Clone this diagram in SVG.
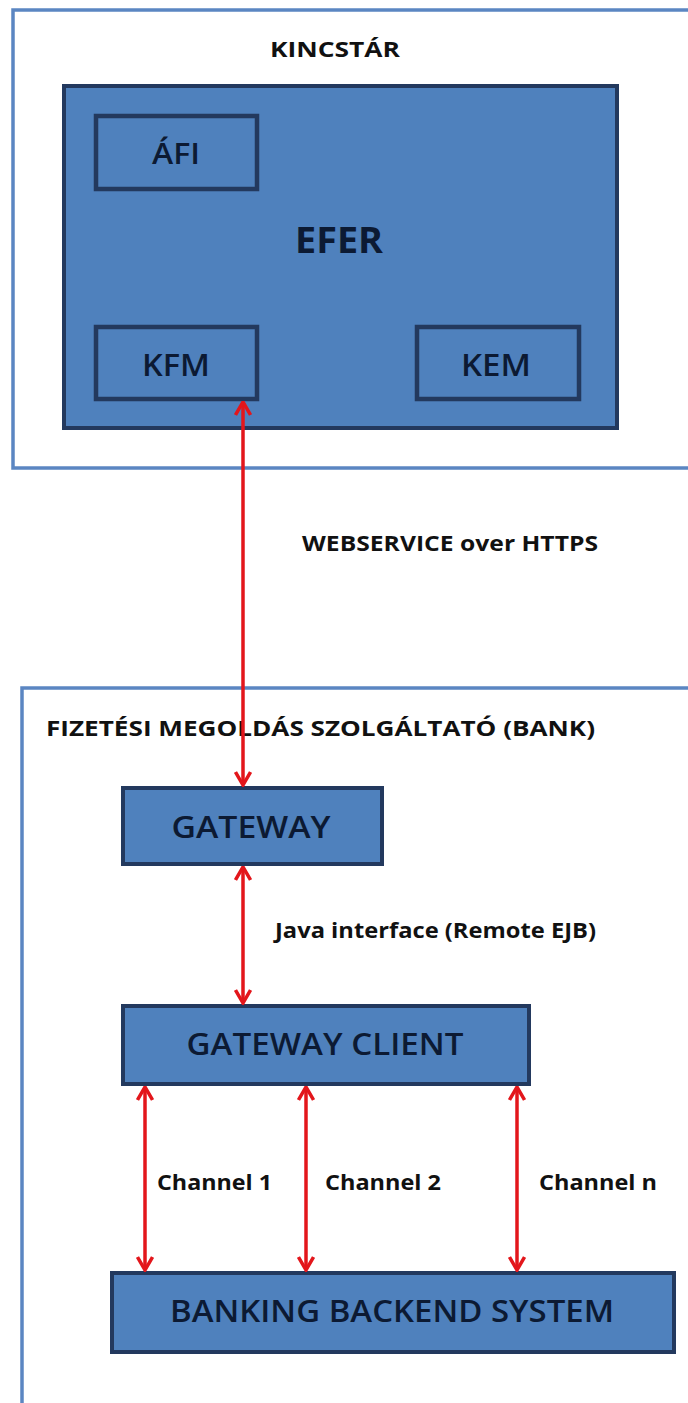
<svg xmlns="http://www.w3.org/2000/svg" width="688" height="1403" viewBox="0 0 688 1403">
<style>
.outer{fill:#ffffff;stroke:#5b86c2;stroke-width:3.5}
.box{fill:#4f81bd;stroke:#23395e;stroke-width:4}
.inner{fill:#4f81bd;stroke:#23395e;stroke-width:4.5}
.bt{font-family:"Open Sans","Liberation Sans",sans-serif;font-weight:600;fill:#0c1a33;text-anchor:middle}
.bt.strong{font-weight:700}
.lbl{font-family:"Open Sans","Liberation Sans",sans-serif;font-weight:700;fill:#111111}
.conn{stroke:#e3161b;stroke-width:3.5;fill:none}
</style>
<defs>
<marker id="ah" viewBox="0 0 16 18" refX="14.5" refY="9" markerWidth="16" markerHeight="18" markerUnits="userSpaceOnUse" orient="auto-start-reverse">
<path d="M1.5,1.5 L14.5,9 L1.5,16.5" fill="none" stroke="#e3161b" stroke-width="3.5"/>
</marker>
</defs>
<rect width="688" height="1403" fill="#ffffff"/>
<g id="kincstar">
<rect class="outer" x="13" y="10" width="690" height="458"/>
<text class="lbl" x="335" y="57" font-size="21" text-anchor="middle" textLength="130" lengthAdjust="spacingAndGlyphs">KINCSTÁR</text>
</g>
<g id="efer">
<rect class="box" x="64" y="86" width="553" height="342"/>
<text class="bt strong" x="339" y="253" font-size="35" textLength="88" lengthAdjust="spacingAndGlyphs">EFER</text>
</g>
<g id="afi">
<rect class="inner" x="96" y="116" width="161" height="73"/>
<text class="bt" x="176" y="164" font-size="29" textLength="48" lengthAdjust="spacingAndGlyphs">ÁFI</text>
</g>
<g id="kfm">
<rect class="inner" x="96" y="327" width="161" height="72"/>
<text class="bt" x="176" y="376" font-size="30" textLength="68" lengthAdjust="spacingAndGlyphs">KFM</text>
</g>
<g id="kem">
<rect class="inner" x="417" y="327" width="162" height="72"/>
<text class="bt" x="496" y="376" font-size="30" textLength="70" lengthAdjust="spacingAndGlyphs">KEM</text>
</g>
<g id="bank">
<rect class="outer" x="22" y="688" width="690" height="730"/>
<text class="lbl" x="46" y="736" font-size="21" textLength="549" lengthAdjust="spacingAndGlyphs">FIZETÉSI MEGOLDÁS SZOLGÁLTATÓ (BANK)</text>
</g>
<g id="gateway">
<rect class="box" x="123" y="788" width="259" height="76"/>
<text class="bt" x="251" y="838" font-size="30" textLength="159" lengthAdjust="spacingAndGlyphs">GATEWAY</text>
</g>
<g id="gateway-client">
<rect class="box" x="123" y="1006" width="406" height="78"/>
<text class="bt" x="325" y="1055" font-size="30" textLength="277" lengthAdjust="spacingAndGlyphs">GATEWAY CLIENT</text>
</g>
<g id="backend">
<rect class="box" x="112" y="1273" width="562" height="79"/>
<text class="bt" x="392" y="1322" font-size="31" textLength="444" lengthAdjust="spacingAndGlyphs">BANKING BACKEND SYSTEM</text>
</g>
<g id="connectors">
<line class="conn" x1="243" y1="402" x2="243" y2="785" marker-start="url(#ah)" marker-end="url(#ah)"/>
<text class="lbl" x="302" y="551" font-size="21" textLength="296" lengthAdjust="spacingAndGlyphs">WEBSERVICE over HTTPS</text>
<line class="conn" x1="243" y1="867" x2="243" y2="1003" marker-start="url(#ah)" marker-end="url(#ah)"/>
<text class="lbl" x="275" y="938" font-size="21" textLength="321" lengthAdjust="spacingAndGlyphs">Java interface (Remote EJB)</text>
<line class="conn" x1="145" y1="1087" x2="145" y2="1270" marker-start="url(#ah)" marker-end="url(#ah)"/>
<line class="conn" x1="306" y1="1087" x2="306" y2="1270" marker-start="url(#ah)" marker-end="url(#ah)"/>
<line class="conn" x1="517" y1="1087" x2="517" y2="1270" marker-start="url(#ah)" marker-end="url(#ah)"/>
<text class="lbl" x="157" y="1190" font-size="21" textLength="115" lengthAdjust="spacingAndGlyphs">Channel 1</text>
<text class="lbl" x="325" y="1190" font-size="21" textLength="116" lengthAdjust="spacingAndGlyphs">Channel 2</text>
<text class="lbl" x="539" y="1190" font-size="21" textLength="118" lengthAdjust="spacingAndGlyphs">Channel n</text>
</g>
</svg>
